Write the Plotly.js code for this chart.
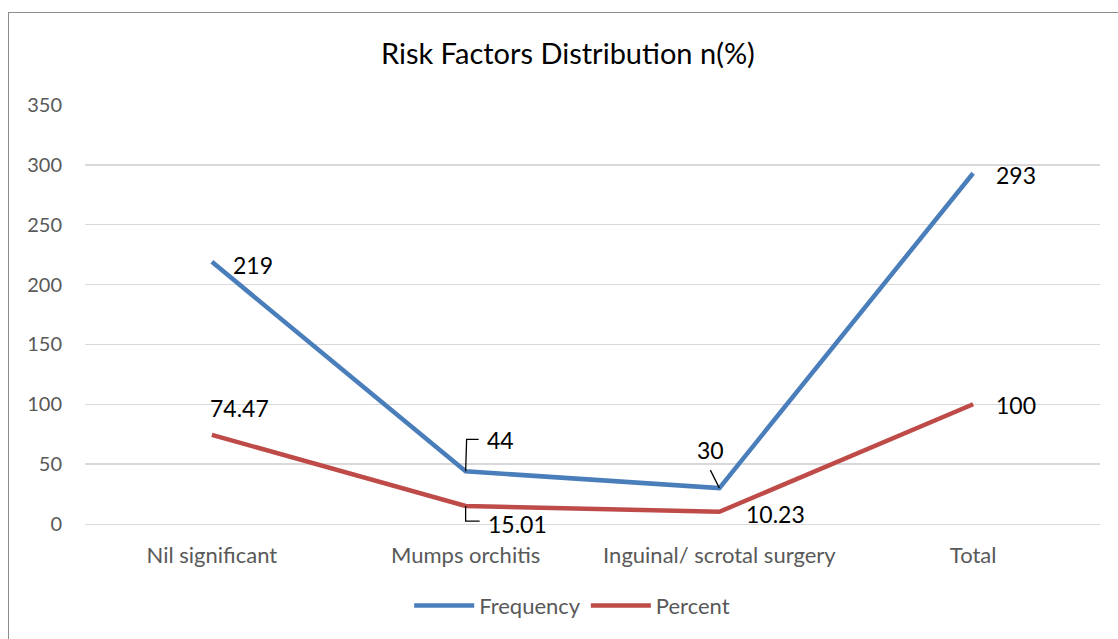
<!DOCTYPE html>
<html><head><meta charset="utf-8">
<script src="https://cdn.plot.ly/plotly-3.0.1.min.js"></script>
<style>
html,body{margin:0;padding:0;background:#fff;overflow:hidden}
#frame{position:absolute;left:8px;top:12px;width:1130px;height:650px;border:1.5px solid #8c8c8c;box-sizing:border-box}
#chart{position:absolute;left:0;top:0;width:1118px;height:639px}
</style></head>
<body>
<div id="frame"></div>
<div id="chart"></div>
<script>
const categories = ["Nil significant", "Mumps orchitis", "Inguinal/ scrotal surgery", "Total"];
const frequency = [219, 44, 30, 293];
const percent = [74.47, 15.01, 10.23, 100];
const freqLabels = ["219", "44", "30", "293"];
const pctLabels = ["74.47", "15.01", "10.23", "100"];

const font = "Lato, Open Sans, sans-serif";
const traces = [
  {x: categories, y: frequency, name: "Frequency", type: "scatter", mode: "lines",
   line: {color: "#4A7EBB", width: 4.5}},
  {x: categories, y: percent, name: "Percent", type: "scatter", mode: "lines",
   line: {color: "#BE4B48", width: 4.5}}
];
const lf = {family: font, size: 23, color: "#000"};
const anns = [
  {x: 0, y: frequency[0], text: freqLabels[0], xshift: 41, yshift: -3},
  {x: 1, y: frequency[1], text: freqLabels[1], xshift: 35, yshift: 31},
  {x: 2, y: frequency[2], text: freqLabels[2], xshift: -9, yshift: 38},
  {x: 3, y: frequency[3], text: freqLabels[3], xshift: 43, yshift: -2},
  {x: 0, y: percent[0], text: pctLabels[0], xshift: 28, yshift: 27},
  {x: 1, y: percent[1], text: pctLabels[1], xshift: 52, yshift: -18},
  {x: 2, y: percent[2], text: pctLabels[2], xshift: 56, yshift: -2},
  {x: 3, y: percent[3], text: pctLabels[3], xshift: 43, yshift: -1}
].map(a => Object.assign({xref: "x", yref: "y", font: lf, showarrow: false}, a));

const leader = (xi, yv, path) => ({type: "path", xref: "x", yref: "y", xsizemode: "pixel", ysizemode: "pixel",
  xanchor: xi, yanchor: yv, path: path, line: {color: "#000", width: 1.3}, layer: "above"});
const shapes = [
  leader(1, frequency[1], "M0,0 L1,32 L13,32"),
  leader(1, percent[1], "M0,0 L0,-15 L14,-15"),
  leader(2, frequency[2], "M0,0 L-9,18")
];

const layout = {
  width: 1118, height: 639,
  margin: {l: 85, r: 18, t: 105, b: 115},
  paper_bgcolor: "rgba(0,0,0,0)", plot_bgcolor: "rgba(0,0,0,0)",
  title: {text: "Risk Factors Distribution n(%)", x: 0.508, xanchor: "center", y: 0.915, yanchor: "middle",
          font: {family: font, size: 29, color: "#000"}},
  xaxis: {type: "category", range: [-0.5, 3.5], showgrid: false, showline: true, linecolor: "#d9d9d9", linewidth: 1.3,
          ticks: "", tickfont: {family: font, size: 22, color: "#595959"}, ticklabelstandoff: 11},
  yaxis: {range: [0, 350], dtick: 50, showgrid: true, gridcolor: "#d9d9d9", gridwidth: 1.3,
          zeroline: false, showline: false, ticks: "", ticklabelstandoff: 22,
          tickfont: {family: font, size: 20, color: "#595959"}},
  legend: {orientation: "h", x: 0.48, xanchor: "center", y: -0.195, yanchor: "middle",
           font: {family: font, size: 22, color: "#595959"}, itemwidth: 60, tracegroupgap: 0},
  annotations: anns,
  shapes: shapes,
  showlegend: true
};
Plotly.newPlot("chart", traces, layout, {displayModeBar: false, staticPlot: true});
</script>
</body></html>
